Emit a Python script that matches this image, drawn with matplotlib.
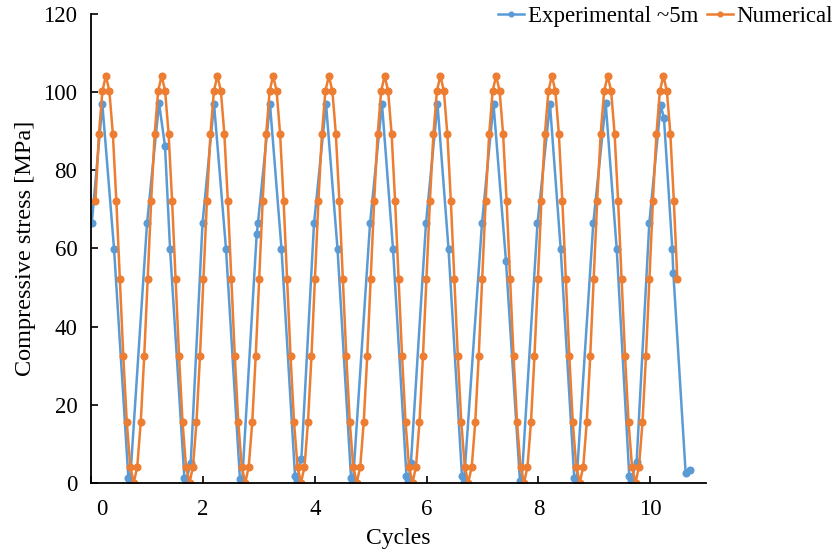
"""
Compressive stress vs cycles: experimental (~5m) and numerical
"""

import numpy as np
import matplotlib.pyplot as plt

# Experimental ~5m (cycle, stress in MPa)
exp_cycles = [0.009, 0.199, 0.408, 0.664, 0.694,
              0.998, 1.213, 1.320, 1.410, 1.666, 1.696, 1.780,
              1.991, 2.197, 2.411, 2.660, 2.700,
              2.960, 2.982, 3.198, 3.404, 3.646, 3.680, 3.760,
              3.986, 4.201, 4.406, 4.648, 4.683,
              4.988, 5.202, 5.399, 5.640, 5.675, 5.720,
              5.989, 6.195, 6.392, 6.633, 6.669,
              6.991, 7.197, 7.420, 7.670, 7.700,
              7.984, 8.207, 8.399, 8.642, 8.682,
              8.982, 9.204, 9.401, 9.626, 9.657, 9.758,
              9.984, 10.188, 10.247, 10.396, 10.414, 10.635, 10.705]
exp_stress = [66.4, 96.9, 59.9, 1.3, 0.3,
              66.4, 97.2, 86.2, 59.9, 1.3, 0.3, 5.1,
              66.4, 97.0, 59.9, 1.0, 0.3,
              63.6, 66.4, 97.0, 59.9, 1.7, 0.5, 6.2,
              66.4, 97.0, 59.9, 1.3, 0.3,
              66.4, 97.0, 59.9, 1.7, 0.5, 5.1,
              66.4, 97.0, 59.9, 1.7, 0.3,
              66.4, 97.0, 56.8, 0.5, 0.3,
              66.4, 97.0, 59.9, 1.1, 0.3,
              66.4, 97.2, 59.9, 1.7, 0.5, 5.4,
              66.4, 96.7, 93.3, 59.9, 53.8, 2.4, 3.2]

# Numerical: evenly sampled in time
num_t0 = 0.075
num_dt = 0.06234
num_stress = [72.2, 89.3, 100.3,
              104.2, 100.3, 89.3, 72.2, 52.2, 32.4, 15.5, 4.1, 0.0, 4.1, 15.5, 32.4, 52.2, 72.2, 89.3, 100.3,
              104.2, 100.3, 89.3, 72.2, 52.2, 32.4, 15.5, 4.1, 0.0, 4.1, 15.5, 32.4, 52.2, 72.2, 89.3, 100.3,
              104.2, 100.3, 89.3, 72.2, 52.2, 32.4, 15.5, 4.1, 0.0, 4.1, 15.5, 32.4, 52.2, 72.2, 89.3, 100.3,
              104.2, 100.3, 89.3, 72.2, 52.2, 32.4, 15.5, 4.1, 0.0, 4.1, 15.5, 32.4, 52.2, 72.2, 89.3, 100.3,
              104.2, 100.3, 89.3, 72.2, 52.2, 32.4, 15.5, 4.1, 0.0, 4.1, 15.5, 32.4, 52.2, 72.2, 89.3, 100.3,
              104.2, 100.3, 89.3, 72.2, 52.2, 32.4, 15.5, 4.1, 0.0, 4.1, 15.5, 32.4, 52.2, 72.2, 89.3, 100.3,
              104.2, 100.3, 89.3, 72.2, 52.2, 32.4, 15.5, 4.1, 0.0, 4.1, 15.5, 32.4, 52.2, 72.2, 89.3, 100.3,
              104.2, 100.3, 89.3, 72.2, 52.2, 32.4, 15.5, 4.1, 0.0, 4.1, 15.5, 32.4, 52.2, 72.2, 89.3, 100.3,
              104.2, 100.3, 89.3, 72.2, 52.2, 32.4, 15.5, 4.1, 0.0, 4.1, 15.5, 32.4, 52.2, 72.2, 89.3, 100.3,
              104.2, 100.3, 89.3, 72.2, 52.2, 32.4, 15.5, 4.1, 0.0, 4.1, 15.5, 32.4, 52.2, 72.2, 89.3, 100.3,
              104.2, 100.3, 89.3, 72.2, 52.2]
num_cycles = num_t0 + num_dt * np.arange(len(num_stress))

x_ticks = [0, 2, 4, 6, 8, 10]
y_ticks = [0, 20, 40, 60, 80, 100, 120]

plt.rcParams['font.family'] = ['Liberation Serif', 'DejaVu Serif']
FS = 16.5

fig = plt.figure(figsize=(8.34, 5.52), dpi=100)
ax = fig.add_axes([0.1094, 0.1255, 0.7372, 0.8489])

ax.plot(exp_cycles, exp_stress, color='#5B9BD5', lw=1.8, marker='o', ms=4.8,
        label='Experimental ~5m')
ax.plot(num_cycles, num_stress, color='#ED7D31', lw=1.8, marker='o', ms=4.8,
        label='Numerical')

ax.set_xlim(0, 11)
ax.set_ylim(0, 120)
ax.set_xticks(x_ticks)
ax.set_xticklabels([''] + [str(t) for t in x_ticks[1:]])
ax.set_yticks(y_ticks)

for side in ['top', 'right']:
    ax.spines[side].set_visible(False)
for side in ['left', 'bottom']:
    ax.spines[side].set_linewidth(1.3)
    ax.spines[side].set_color('black')

ax.tick_params(axis='both', direction='in', length=5, width=1.2, labelsize=FS)
ax.tick_params(axis='x', pad=12)
ax.tick_params(axis='y', pad=10)

# the "0" label sits a bit right of the y axis in the original
ax.annotate('0', xy=(0, 0), xycoords=('data', 'axes fraction'),
            xytext=(7.6, -12), textcoords='offset points',
            ha='center', va='top', fontsize=FS)

ax.set_xlabel('Cycles', fontsize=FS + 0.5, labelpad=5.5)
ax.set_ylabel('Compressive stress [MPa]', fontsize=17.5, labelpad=5.5)

ax.legend(loc='center right', bbox_to_anchor=(833 / 834, 1 - 16.7 / 552),
          bbox_transform=fig.transFigure, ncol=2, frameon=False, fontsize=FS,
          handlelength=1.13, handletextpad=0.15, columnspacing=0.4,
          borderaxespad=0, borderpad=0, markerscale=0.7)

fig.savefig('out.png', dpi=100)
